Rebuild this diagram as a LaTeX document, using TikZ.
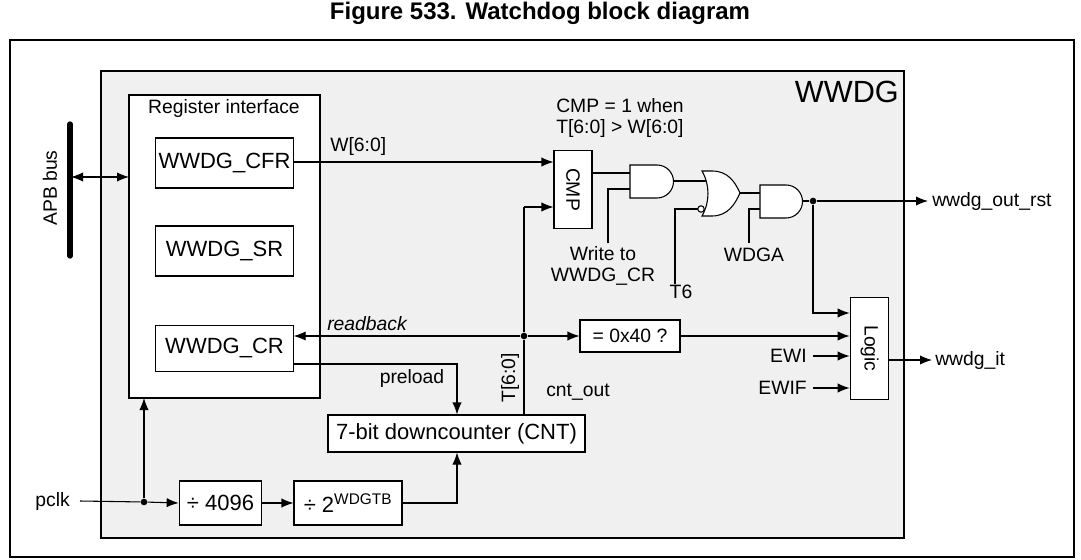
\documentclass[tikz,border=0pt]{standalone}
\usepackage{fontspec}
\setmainfont{Liberation Sans}
\usetikzlibrary{arrows.meta}
\begin{document}
\begin{tikzpicture}[x=0.75pt,y=-0.75pt,
  every node/.style={font=\fontsize{14.5}{16}\selectfont,inner sep=0pt},
  blk/.style={draw,fill=white,line width=0.8pt},
  big/.style={font=\fontsize{16.5}{18}\selectfont},
  ln/.style={line width=0.8pt},
  ar/.style={ln,-{Latex[length=9pt,width=7pt]}},
  dot/.style={circle,fill,minimum size=5pt}]
\useasboundingbox (0,0) rectangle (1081,560);
\node[font=\bfseries\fontsize{18}{20}\selectfont] (title) at (540,13) {Figure 533. Watchdog block diagram};
\draw[line width=1.2pt] (10,40) rectangle (1074,557);
\draw[line width=1.4pt,fill=black!6] (101,71) rectangle (904,538);
\node[font=\fontsize{23}{25}\selectfont,anchor=east] (wwdg) at (899,92) {WWDG};
% register interface
\draw[blk] (129,95) rectangle (320,398);
\node (regt) at (224,109) {Register interface};
\node[blk,big,minimum width=103pt,minimum height=37.5pt] (cfr) at (224.5,163) {WWDG\_CFR};
\node[blk,big,minimum width=103pt,minimum height=37.5pt] (sr) at (224.5,251) {WWDG\_SR};
\node[blk,big,minimum width=103pt,minimum height=35pt] (cr) at (224.5,348.5) {WWDG\_CR};
% APB bus
\draw[line width=4pt,line cap=round] (70,124) -- (70,256);
\coordinate (apb) at (71,177);
\coordinate (regl) at (129,177);
\draw[ln,{Latex[length=9pt,width=7pt]}-{Latex[length=9pt,width=7pt]}] (apb) -- (regl);
\node[rotate=90] (apbt) at (50,188) {APB bus};
% CMP
\node[blk,minimum width=28.5pt,minimum height=59pt] (cmp) at (573,189.5) {};
\node[rotate=-90] at (cmp) {CMP};
\node[align=left,anchor=north west] (cmpt) at (556,98) {CMP = 1 when\\T[6:0] > W[6:0]};
\draw[ar] (cfr.east |- 0,162) -- (cmp.west |- 0,162);
\node[anchor=south west] (wt) at (330,156) {W[6:0]};
% gates
\draw[blk] (630,165) -- (657,165) arc[start angle=-90,end angle=90,radius=16.5] -- (630,198) -- cycle;
\coordinate (and1) at (673,181);
\draw[blk] (702,171) -- (712,171) .. controls (728,171) and (735,182) .. (740,193) .. controls (735,204) and (728,216) .. (712,216) -- (702,216) .. controls (710,202) and (710,185) .. (702,171) -- cycle;
\coordinate (or) at (740,193);
\draw[blk] (760,185) -- (786,185) arc[start angle=-90,end angle=90,radius=16.5] -- (760,218) -- cycle;
\coordinate (and2) at (803,201);
\draw[ln] (cmp.east |- 0,173) -- (630,173);
\draw[ln] (608,243) -- (608,189) -- (630,189);
\node[align=center,anchor=north] (wr) at (603,246) {Write to\\WWDG\_CR};
\draw[ln] (and1) -- (706,181);
\draw[ln,fill=white] (701,209) circle (3.2);
\draw[ln] (675,284) -- (675,209) -- (697.8,209);
\node[anchor=north] (t6) at (681,285) {T6};
\draw[ln] (or) -- (760,193);
\draw[ln] (749,243) -- (749,209) -- (760,209);
\node[anchor=north] (wdga) at (754,248) {WDGA};
\node[dot] (j2) at (813,201) {};
\draw[ln] (and2) -- (j2);
\draw[ar] (j2) -- (928,201);
\node[anchor=west] (rst) at (932,201) {wwdg\_out\_rst};
% logic
\node[blk,minimum width=29pt,minimum height=77pt] (logic) at (869.5,348.5) {};
\node[rotate=-90] at (logic) {Logic};
\draw[ar] (j2) -- (813,313) -- (logic.west |- 0,313);
\node[blk,minimum width=75pt,minimum height=24pt] (cmp40) at (630,336) {= 0x40 ?};
\draw[ar] (cmp40.east) -- (logic.west |- cmp40.east);
\node[anchor=east] (ewi) at (807,356) {EWI};
\draw[ar] (ewi.east) ++(6,0) -- (logic.west |- 0,356);
\node[anchor=east] (ewif) at (807,388) {EWIF};
\draw[ar] (ewif.east) ++(6,0) -- (logic.west |- 0,388);
\draw[ar] (logic.east |- 0,360) -- (932,360);
\node[anchor=west] (it) at (935,360) {wwdg\_it};
% counter and readback
\node[blk,big,minimum width=192.75pt,minimum height=27.75pt] (cnt) at (456.5,433.5) {7-bit downcounter (CNT)};
\node[dot] (j1) at (524,336) {};
\draw[ar] (j1) -- (cr.east |- j1);
\draw[ar] (j1) -- (cmp40.west);
\draw[ln] (cnt.north -| j1) -- (j1) -- (524,207);
\draw[ar] (524,207) -- (cmp.west |- 0,207);
\node[anchor=south west,font=\itshape\fontsize{14.5}{16}\selectfont] (rb) at (327,331) {readback};
\node[rotate=90] (t60) at (510,378) {T[6:0]};
\node (cout) at (578,392) {cnt\_out};
\draw[ar] (cr.east |- 0,364) -- (457,364) -- (cnt.north -| 457,0);
\node (pre) at (412,378) {preload};
% clock chain
\node[blk,big,minimum width=62pt,minimum height=33pt] (d1) at (220.5,503) {÷ 4096};
\node[blk,big,minimum width=81pt,minimum height=33pt] (d2) at (348,503) {÷ 2\textsuperscript{WDGTB}};
\node[anchor=east] (pclk) at (70,501) {pclk};
\node[dot] (j0) at (144,502) {};
\draw[ln] (80,501) -- (j0);
\draw[ar] (j0) -- (d1.west);
\draw[ar] (j0) -- (144,398);
\draw[ar] (d1) -- (d2);
\draw[ar] (d2.east) -- (457,503) -- (cnt.south -| 457,0);
\end{tikzpicture}
\end{document}
